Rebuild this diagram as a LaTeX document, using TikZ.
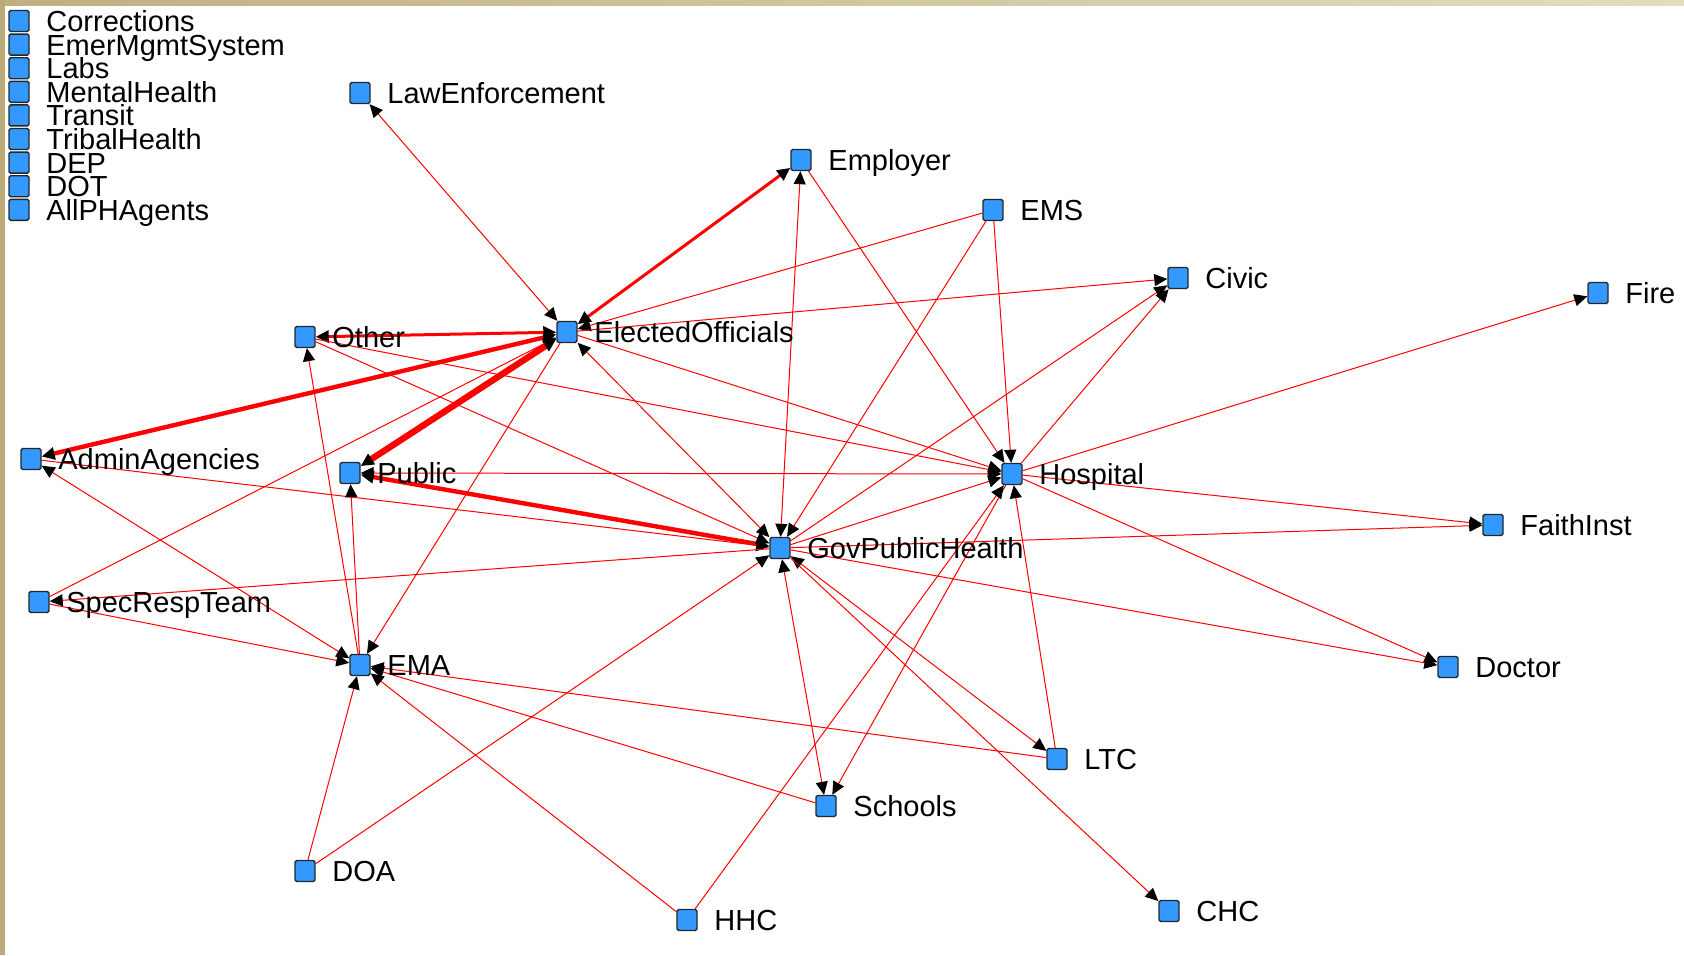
\documentclass[tikz,border=0pt]{standalone}
\usepackage{fontspec}
\setmainfont{Liberation Sans}
\usetikzlibrary{arrows.meta,backgrounds}
\definecolor{nodeblue}{RGB}{51,153,255}
\definecolor{frameL}{RGB}{185,170,120}
\definecolor{frameT1}{RGB}{190,176,128}
\definecolor{frameT2}{RGB}{228,220,190}
\tikzset{
  sq/.style={draw=black!85, fill=nodeblue, minimum width=10pt, minimum height=10.5pt,
    inner sep=0pt, rounded corners=0.8pt, line width=0.7pt},
  lab/.style={anchor=base west, xshift=13.5pt, yshift=-5.2pt, inner sep=0pt,
    font=\fontsize{14.5pt}{15pt}\selectfont, text=black},
  link/.style={draw=red, line width=0.5pt},
  wA/.style={line width=1.5pt},
  wB/.style={line width=2.2pt},
  wC/.style={line width=3.2pt},
  fwd/.style={-{Triangle[length=6.5pt,width=6pt,black]}},
  bidi/.style={{Triangle[length=6.5pt,width=6pt,black]}-{Triangle[length=6.5pt,width=6pt,black]}},
}
\begin{document}
\begin{tikzpicture}[x=0.5pt,y=-0.5pt]
\useasboundingbox (0,0) rectangle (1684,955);
\begin{scope}[on background layer]
  \fill[white] (0,0) rectangle (1684,955);
  \shade[left color=frameT1, right color=frameT2] (0,0) rectangle (1684,5);
  \fill[frameL] (0,0) rectangle (5,955);
\end{scope}
% legend (isolated nodes)
\foreach \t [count=\i from 0] in {Corrections,EmerMgmtSystem,Labs,MentalHealth,Transit,TribalHealth,DEP,DOT,AllPHAgents}{
  \node[sq] (leg\i) at (19,{21+23.6*\i}) {};
  \node[lab] (leg\i-l) at (leg\i.center) {\t};
}
% network nodes
\foreach \n/\x/\y/\t in {
  LE/360/93/LawEnforcement, Emp/801/160/Employer, EMS/993/210/EMS,
  Civic/1178/278/Civic, Fire/1598/293/Fire, Other/305/337/Other,
  EO/567/332/ElectedOfficials, AA/31/459/AdminAgencies, Public/350/473/Public,
  Hosp/1012/474/Hospital, Faith/1493/525/FaithInst, GPH/780/548/GovPublicHealth,
  SRT/39/602/SpecRespTeam, EMA/360/665/EMA, Doctor/1448/667/Doctor,
  LTC/1057/759/LTC, Schools/826/806/Schools, DOA/305/871/DOA,
  HHC/687/920/HHC, CHC/1169/911/CHC}{
  \node[sq] (\n) at (\x,\y) {};
  \node[lab] (\n-l) at (\n.center) {\t};
}
\begin{scope}[on background layer]
  % heavy ties
  \draw[link,wC,bidi] (EO) -- (Public);
  \draw[link,wB,bidi] (EO) -- (AA);
  \draw[link,wA,bidi] (EO) -- (Other);
  \draw[link,wA,bidi] (EO) -- (Emp);
  \draw[link,wB,bidi] (Public) -- (GPH);
  % ElectedOfficials
  \draw[link,bidi] (EO) -- (LE);
  \draw[link,fwd] (EMS) -- (EO);
  \draw[link,fwd] (EO) -- (Civic);
  \draw[link,fwd] (EO) -- (Hosp);
  \draw[link,bidi] (EO) -- (GPH);
  \draw[link,fwd] (EO) -- (EMA);
  \draw[link,fwd] (SRT) -- (EO);
  % Employer, EMS, Civic, Fire
  \draw[link,bidi] (Emp) -- (GPH);
  \draw[link,fwd] (Emp) -- (Hosp);
  \draw[link,fwd] (EMS) -- (GPH);
  \draw[link,fwd] (EMS) -- (Hosp);
  \draw[link,fwd] (GPH) -- (Civic);
  \draw[link,fwd] (Hosp) -- (Civic);
  \draw[link,fwd] (Hosp) -- (Fire);
  % Other
  \draw[link,fwd] (Other) -- (Hosp);
  \draw[link,fwd] (Other) -- (GPH);
  \draw[link,fwd] (EMA) -- (Other);
  % AdminAgencies, Public
  \draw[link,fwd] (AA) -- (GPH);
  \draw[link,bidi] (AA) -- (EMA);
  \draw[link,bidi] (Public) -- (Hosp);
  \draw[link,fwd] (EMA) -- (Public);
  % Hospital
  \draw[link,fwd] (Hosp) -- (Faith);
  \draw[link,fwd] (Hosp) -- (Doctor);
  \draw[link,fwd] (GPH) -- (Hosp);
  \draw[link,fwd] (LTC) -- (Hosp);
  \draw[link,fwd] (Hosp) -- (Schools);
  \draw[link,fwd] (HHC) -- (Hosp);
  % GovPublicHealth
  \draw[link,fwd] (GPH) -- (Faith);
  \draw[link,fwd] (GPH) -- (Doctor);
  \draw[link,bidi] (GPH) -- (LTC);
  \draw[link,fwd] (GPH) -- (CHC);
  \draw[link,bidi] (GPH) -- (Schools);
  \draw[link,fwd] (DOA) -- (GPH);
  \draw[link,fwd] (GPH) -- (SRT);
  % EMA
  \draw[link,fwd] (LTC) -- (EMA);
  \draw[link,fwd] (Schools) -- (EMA);
  \draw[link,fwd] (HHC) -- (EMA);
  \draw[link,fwd] (DOA) -- (EMA);
  \draw[link,fwd] (SRT) -- (EMA);
\end{scope}
\end{tikzpicture}
\end{document}
